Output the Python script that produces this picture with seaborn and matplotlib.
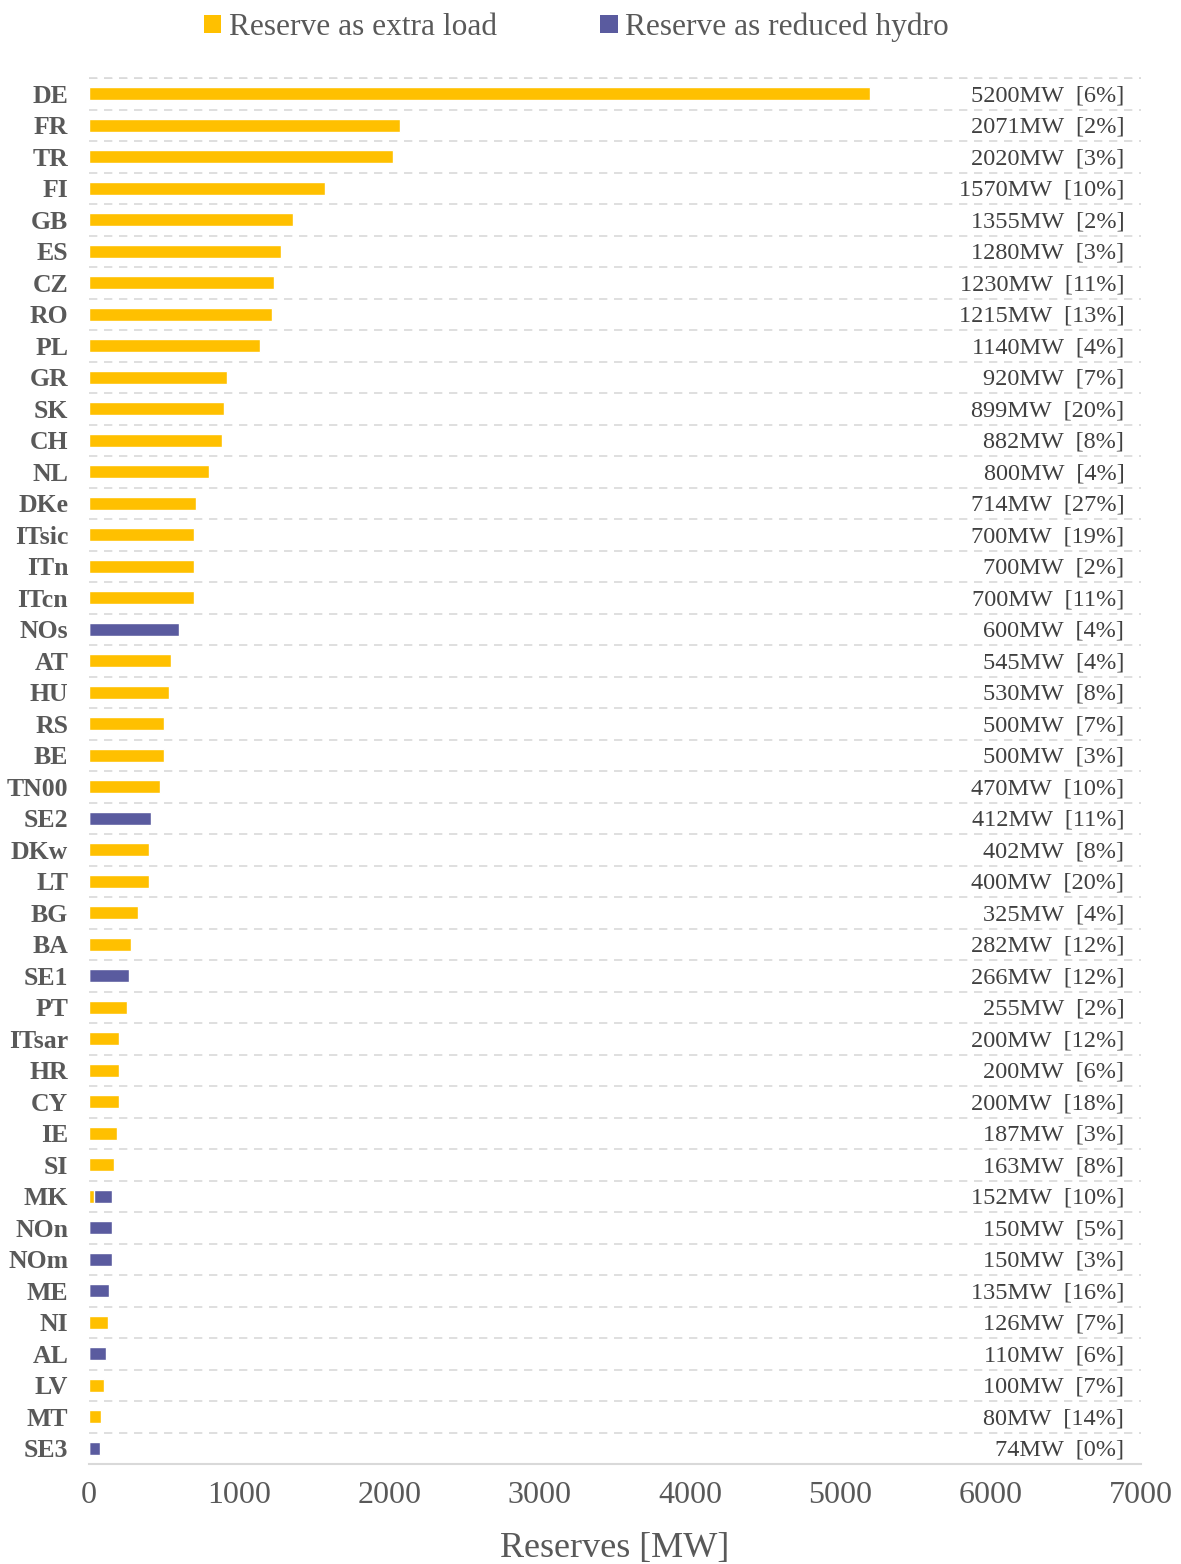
import numpy as np
import pandas as pd
import seaborn as sns
import matplotlib.pyplot as plt
from matplotlib.patches import Patch

sns.set_theme(style="white")
plt.rcParams['font.family'] = ['Liberation Serif', 'DejaVu Serif']

# 数据
zones = ["DE", "FR", "TR", "FI", "GB", "ES", "CZ", "RO", "PL", "GR", "SK", "CH", "NL",
         "DKe", "ITsic", "ITn", "ITcn", "NOs", "AT", "HU", "RS", "BE", "TN00", "SE2",
         "DKw", "LT", "BG", "BA", "SE1", "PT", "ITsar", "HR", "CY", "IE", "SI", "MK",
         "NOn", "NOm", "ME", "NI", "AL", "LV", "MT", "SE3"]
extra_load = [5200, 2071, 2020, 1570, 1355, 1280, 1230, 1215, 1140, 920, 899, 882, 800,
              714, 700, 700, 700, 0, 545, 530, 500, 500, 470, 0,
              402, 400, 325, 282, 0, 255, 200, 200, 200, 187, 163, 32,
              0, 0, 0, 126, 0, 100, 80, 0]
reduced_hydro = [0, 0, 0, 0, 0, 0, 0, 0, 0, 0, 0, 0, 0,
                 0, 0, 0, 0, 600, 0, 0, 0, 0, 0, 412,
                 0, 0, 0, 0, 266, 0, 0, 0, 0, 0, 0, 120,
                 150, 150, 135, 0, 110, 0, 0, 74]
total_mw = [5200, 2071, 2020, 1570, 1355, 1280, 1230, 1215, 1140, 920, 899, 882, 800,
            714, 700, 700, 700, 600, 545, 530, 500, 500, 470, 412,
            402, 400, 325, 282, 266, 255, 200, 200, 200, 187, 163, 152,
            150, 150, 135, 126, 110, 100, 80, 74]
share_pct = [6, 2, 3, 10, 2, 3, 11, 13, 4, 7, 20, 8, 4,
             27, 19, 2, 11, 4, 4, 8, 7, 3, 10, 11,
             8, 20, 4, 12, 12, 2, 12, 6, 18, 3, 8, 10,
             5, 3, 16, 7, 6, 7, 14, 0]

yellow = "#FFC000"
purple = "#5A5B9F"
grey = "#595959"

df = pd.DataFrame({"zone": zones, "extra": extra_load, "hydro": reduced_hydro})
df["stack"] = df["extra"] + df["hydro"]

fig = plt.figure(figsize=(11.81, 15.64), dpi=100)
ax = fig.add_axes([0.0754, 0.0639, 0.8906, 0.8862])

# 先画总量(紫色)，再把黄色叠在上面
sns.barplot(data=df, y="zone", x="stack", color=purple, width=0.42, ax=ax,
            saturation=1, orient="h")
sns.barplot(data=df, y="zone", x="extra", color=yellow, width=0.42, ax=ax,
            saturation=1, orient="h")

ax.set_xlim(0, 7000)
ax.set_ylim(len(zones) - 0.5, -0.5)
ax.set_xticks(np.arange(0, 7001, 1000))
ax.set_xticklabels([str(v) for v in range(0, 7001, 1000)], fontsize=23, color=grey)
ax.tick_params(axis="x", length=0, pad=12)
ax.tick_params(axis="y", length=0, pad=15)
for lab in ax.get_yticklabels():
    lab.set_fontsize(18.5)
    lab.set_fontweight("bold")
    lab.set_color(grey)

# 行间虚线
ax.set_yticks(np.arange(-0.5, len(zones) - 1, 1), minor=True)
ax.grid(False)
ax.grid(axis="y", which="minor", color="#D9D9D9", linestyle=(0, (5, 4)), linewidth=1.2)
ax.axhline(-0.5, color="#D9D9D9", linestyle=(0, (5, 4)), linewidth=1.2, clip_on=False)

for s in ["top", "right", "left"]:
    ax.spines[s].set_visible(False)
ax.spines["bottom"].set_color("#D9D9D9")
ax.spines["bottom"].set_linewidth(1.5)

ax.set_ylabel("")
ax.set_xlabel("Reserves [MW]", fontsize=26, color=grey, labelpad=16)

for i, (v, p) in enumerate(zip(total_mw, share_pct)):
    ax.text(6890, i + 0.06, f"{v}MW  [{p}%]", ha="right", va="center",
            fontsize=17.5, color="#404040")

handles = [Patch(facecolor=yellow, edgecolor="none", label="Reserve as extra load"),
           Patch(facecolor=purple, edgecolor="none", label="Reserve as reduced hydro")]
leg = fig.legend(handles=handles, loc="center", bbox_to_anchor=(0.488, 0.9825), ncol=2,
                 frameon=False, fontsize=22.6, handlelength=0.55, handleheight=0.55,
                 handletextpad=0.25, columnspacing=3.3)
for t in leg.get_texts():
    t.set_color(grey)

plt.savefig("out.png", dpi=100)
